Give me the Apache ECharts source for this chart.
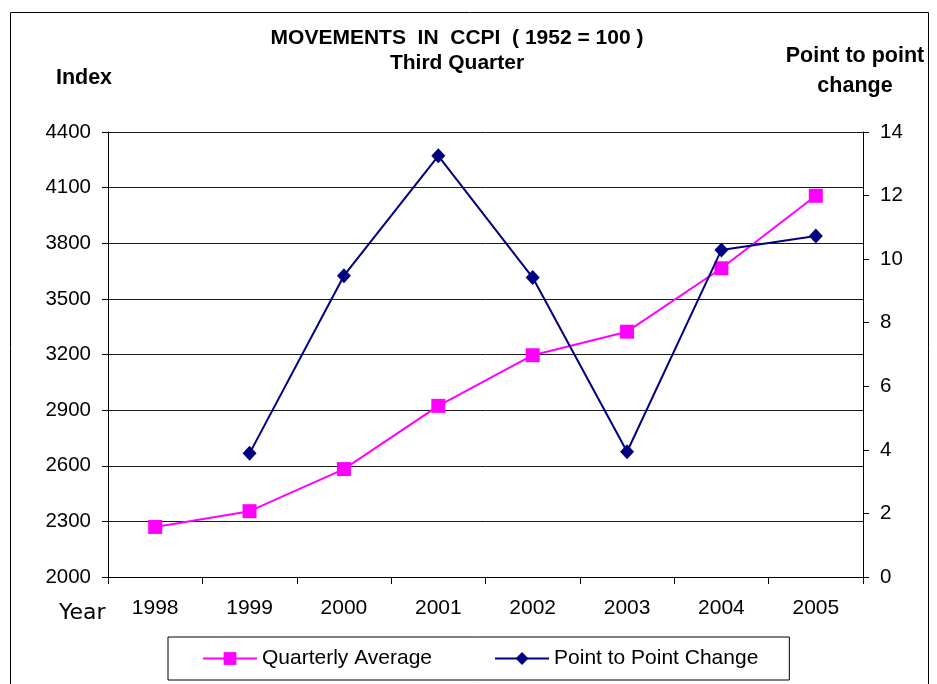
<!DOCTYPE html>
<html>
<head>
<meta charset="utf-8">
<title>CCPI movements</title>
<script src="https://cdn.jsdelivr.net/npm/echarts@6/dist/echarts.min.js"></script>
<style>
  html, body { margin: 0; padding: 0; background: #fff; }
  #chart { width: 937px; height: 684px; }
</style>
</head>
<body>
<div id="chart"></div>
<script>
// data
const years = ['1998', '1999', '2000', '2001', '2002', '2003', '2004', '2005'];
const quarterlyAverage = [2270, 2355, 2582, 2923, 3196, 3323, 3665, 4056];
// no point to point change for the first year
const pointChange = [null, 3.89, 9.48, 13.25, 9.42, 3.94, 10.29, 10.73];

const font = '"Liberation Sans", Arial, sans-serif';

const chart = echarts.init(document.getElementById('chart'));

const option = {
  backgroundColor: '#fff',
  animation: false,
  title: [
    {
      text: 'MOVEMENTS  IN  CCPI  ( 1952 = 100 )\nThird Quarter',
      left: 452,
      top: 21,
      textAlign: 'center',
      textStyle: { fontFamily: font, fontSize: 21, fontWeight: 'bold', color: '#000', lineHeight: 25 }
    },
    {
      text: 'Index',
      left: 79,
      top: 61,
      textAlign: 'center',
      textStyle: { fontFamily: font, fontSize: 21.5, fontWeight: 'bold', color: '#000', lineHeight: 24 }
    },
    {
      text: 'Point to point\nchange',
      left: 850,
      top: 36,
      textAlign: 'center',
      textStyle: { fontFamily: font, fontSize: 21.5, fontWeight: 'bold', color: '#000', lineHeight: 30 }
    },
    {
      text: 'Year',
      left: 54,
      top: 595,
      textStyle: { fontFamily: '"DejaVu Sans", Verdana, sans-serif', fontSize: 22, fontWeight: 'normal', color: '#000', lineHeight: 26 }
    }
  ],
  graphic: [{
    type: 'rect',
    shape: { x: 10.5, y: 12.5, width: 918, height: 720 },
    style: { fill: 'none', stroke: '#000', lineWidth: 1 },
    silent: true
  }],
  legend: {
    left: 168,
    top: 637,
    padding: [11, 31, 11, 34],
    itemGap: 62,
    itemWidth: 54,
    itemHeight: 16,
    borderColor: '#000',
    borderWidth: 1,
    textStyle: { fontFamily: font, fontSize: 21, color: '#000' },
    data: ['Quarterly Average', 'Point to Point Change']
  },
  grid: {
    left: 108,
    right: 74,
    top: 132,
    bottom: 107
  },
  xAxis: {
    type: 'category',
    data: years,
    boundaryGap: true,
    axisLine: { lineStyle: { color: '#000', width: 1 } },
    axisTick: { show: true, interval: 0, length: 7, lineStyle: { color: '#000' } },
    axisLabel: { margin: 21, fontFamily: font, fontSize: 21, color: '#000' }
  },
  yAxis: [
    {
      type: 'value',
      min: 2000,
      max: 4400,
      interval: 300,
      axisLine: { show: true, lineStyle: { color: '#000' } },
      axisTick: { show: true, length: 6, lineStyle: { color: '#000' } },
      axisLabel: { margin: 17, fontFamily: font, fontSize: 20.5, color: '#000', formatter: v => String(v) },
      splitLine: { show: true, lineStyle: { color: '#1a1a1a', width: 1 } }
    },
    {
      type: 'value',
      min: 0,
      max: 14,
      interval: 2,
      position: 'right',
      axisLine: { show: true, lineStyle: { color: '#000' } },
      axisTick: { show: true, length: 6, lineStyle: { color: '#000' } },
      axisLabel: { margin: 17, fontFamily: font, fontSize: 20.5, color: '#000', formatter: v => String(v) },
      splitLine: { show: false }
    }
  ],
  series: [
    {
      name: 'Quarterly Average',
      type: 'line',
      yAxisIndex: 0,
      data: quarterlyAverage,
      symbol: 'rect',
      symbolSize: 14,
      itemStyle: { color: '#ff00ff' },
      lineStyle: { color: '#ff00ff', width: 2 },
      z: 3
    },
    {
      name: 'Point to Point Change',
      type: 'line',
      yAxisIndex: 1,
      data: pointChange,
      symbol: 'diamond',
      symbolSize: [14, 15],
      itemStyle: { color: '#000080' },
      lineStyle: { color: '#000080', width: 2 },
      z: 4
    }
  ]
};

chart.setOption(option);
</script>
</body>
</html>
